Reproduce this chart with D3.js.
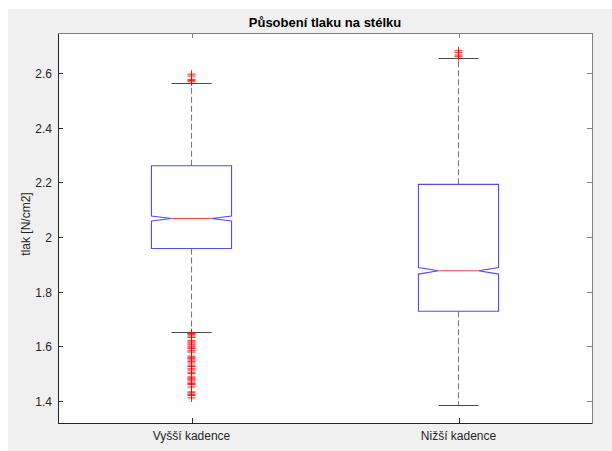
<!DOCTYPE html>
<html>
<head>
<meta charset="utf-8">
<script src="https://cdn.jsdelivr.net/npm/d3@7"></script>
<style>
  html, body { margin: 0; padding: 0; background: #ffffff; }
  svg { display: block; }
  text { font-family: "Liberation Sans", Arial, Helvetica, sans-serif; }
</style>
</head>
<body>
<svg id="chart" width="612" height="451"></svg>
<script>
// Box-plot statistics for each group
const categories = ["Vyšší kadence", "Nižší kadence"];
const q1        = [1.958, 1.728];
const medians   = [2.068, 1.876];
const q3        = [2.261, 2.193];
const whiskLo   = [1.652, 1.383];
const whiskHi   = [2.565, 2.657];
const notchHalf = [0.009, 0.012];
const outliersHigh = [
  [2.569, 2.574, 2.578, 2.590, 2.597],
  [2.661, 2.667, 2.676, 2.683]
];
const outliersLow = [
  [1.649, 1.646, 1.642, 1.637, 1.632, 1.620, 1.615, 1.611, 1.605, 1.600,
   1.596, 1.591, 1.583, 1.578, 1.563, 1.559, 1.554, 1.549, 1.544, 1.538,
   1.530, 1.525, 1.517, 1.512, 1.504, 1.499, 1.487, 1.483, 1.479, 1.475,
   1.468, 1.463, 1.459, 1.450, 1.432, 1.428, 1.423, 1.419, 1.410],
  []
];
const yTicks = [1.4, 1.6, 1.8, 2, 2.2, 2.4, 2.6];

const svg = d3.select("#chart");
const W = 612, H = 451;
const plot = { left: 58, right: 592, top: 33, bottom: 423 };

// figure background
svg.append("rect").attr("x", 8).attr("y", 9).attr("width", W - 8).attr("height", H - 9)
  .attr("fill", "#f0f0f0");
svg.append("rect").attr("x", plot.left).attr("y", plot.top)
  .attr("width", plot.right - plot.left).attr("height", plot.bottom - plot.top)
  .attr("fill", "#ffffff");

const x = d3.scaleLinear().domain([0.5, 2.5]).range([plot.left, plot.right]);
const y = d3.scaleLinear().domain([1.318, 2.748]).range([plot.bottom, plot.top]);

const boxHalf = 0.15;   // in category units
const capHalf = 0.075;

const g = svg.append("g");

categories.forEach((cat, i) => {
  const cx = x(i + 1);
  const L = x(i + 1 - boxHalf), R = x(i + 1 + boxHalf);
  const inset = (R - L) / 4;

  // whiskers (dashed)
  [[q3[i], whiskHi[i]], [q1[i], whiskLo[i]]].forEach(([a, b]) => {
    g.append("line")
      .attr("x1", cx).attr("x2", cx).attr("y1", y(a)).attr("y2", y(b))
      .attr("stroke", "#7a7a7a").attr("stroke-width", 1.1)
      .attr("stroke-dasharray", "6,3");
  });
  // whisker caps
  [whiskHi[i], whiskLo[i]].forEach(v => {
    g.append("line")
      .attr("x1", x(i + 1 - capHalf)).attr("x2", x(i + 1 + capHalf))
      .attr("y1", Math.round(y(v)) + 0.5).attr("y2", Math.round(y(v)) + 0.5)
      .attr("stroke", "#4a4a4a").attr("stroke-width", 1);
  });

  // notched box
  const nLo = y(medians[i] - notchHalf[i]), nHi = y(medians[i] + notchHalf[i]);
  const m = y(medians[i]);
  const pts = [
    [L, y(q1[i])], [L, nLo], [L + inset, m], [L, nHi], [L, y(q3[i])],
    [R, y(q3[i])], [R, nHi], [R - inset, m], [R, nLo], [R, y(q1[i])]
  ];
  g.append("path")
    .attr("d", d3.line()(pts) + "Z")
    .attr("fill", "none").attr("stroke", "#4d4dff").attr("stroke-width", 1.1);

  // median
  g.append("line")
    .attr("x1", L + inset).attr("x2", R - inset).attr("y1", m).attr("y2", m)
    .attr("stroke", "#ff4040").attr("stroke-width", 1);

  // outliers as "+" markers
  const outs = outliersHigh[i].concat(outliersLow[i]);
  const mk = g.append("g").attr("stroke", "#ff0000").attr("stroke-width", 1).attr("stroke-opacity", 0.85);
  outs.forEach(v => {
    const py = y(v);
    mk.append("line").attr("x1", cx - 4).attr("x2", cx + 4).attr("y1", py).attr("y2", py);
    mk.append("line").attr("x1", cx).attr("x2", cx).attr("y1", py - 4).attr("y2", py + 4);
  });
});

// axes frame
const axisG = svg.append("g");
axisG.append("line").attr("x1", plot.left + 0.5).attr("x2", plot.left + 0.5)
  .attr("y1", plot.top).attr("y2", plot.bottom + 0.5).attr("stroke", "#262626");
axisG.append("line").attr("x1", plot.left).attr("x2", plot.right + 0.5)
  .attr("y1", plot.bottom + 0.5).attr("y2", plot.bottom + 0.5).attr("stroke", "#262626");
axisG.append("line").attr("x1", plot.left).attr("x2", plot.right + 0.5)
  .attr("y1", plot.top + 0.5).attr("y2", plot.top + 0.5).attr("stroke", "#808080");
axisG.append("line").attr("x1", plot.right + 0.5).attr("x2", plot.right + 0.5)
  .attr("y1", plot.top).attr("y2", plot.bottom + 0.5).attr("stroke", "#808080");

// y ticks (inside, both sides) and labels
yTicks.forEach(t => {
  const py = Math.round(y(t)) + 0.5;
  axisG.append("line").attr("x1", plot.left).attr("x2", plot.left + 5)
    .attr("y1", py).attr("y2", py).attr("stroke", "#262626");
  axisG.append("line").attr("x1", plot.right - 5).attr("x2", plot.right)
    .attr("y1", py).attr("y2", py).attr("stroke", "#808080");
  axisG.append("text").attr("x", plot.left - 6).attr("y", py)
    .attr("text-anchor", "end").attr("dominant-baseline", "central")
    .attr("font-size", 12).attr("fill", "#262626")
    .text(d3.format("")(t));
});

// x ticks and category labels
categories.forEach((cat, i) => {
  const px = Math.round(x(i + 1)) + 0.5;
  axisG.append("line").attr("x1", px).attr("x2", px)
    .attr("y1", plot.bottom - 5).attr("y2", plot.bottom).attr("stroke", "#262626");
  axisG.append("line").attr("x1", px).attr("x2", px)
    .attr("y1", plot.top).attr("y2", plot.top + 5).attr("stroke", "#808080");
  axisG.append("text").attr("x", x(i + 1)).attr("y", 440)
    .attr("text-anchor", "middle").attr("font-size", 12).attr("fill", "#262626")
    .text(cat);
});

// title and y-axis label
svg.append("text").attr("x", (plot.left + plot.right) / 2).attr("y", 27)
  .attr("text-anchor", "middle").attr("font-size", 13).attr("font-weight", "bold")
  .attr("fill", "#000").text("Působení tlaku na stélku");
svg.append("text")
  .attr("transform", `translate(30, ${(plot.top + plot.bottom) / 2 - 4}) rotate(-90)`)
  .attr("text-anchor", "middle").attr("font-size", 12).attr("fill", "#262626")
  .text("tlak [N/cm2]");
</script>
</body>
</html>
